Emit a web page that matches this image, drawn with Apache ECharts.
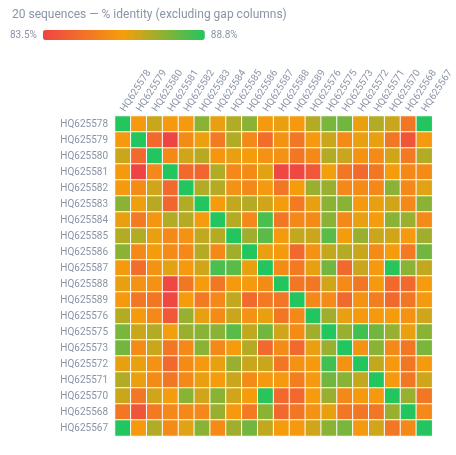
<!DOCTYPE html>
<html>
<head>
<meta charset="utf-8">
<script src="https://cdn.jsdelivr.net/npm/echarts@6/dist/echarts.min.js"></script>
<style>html,body{margin:0;padding:0;background:#fff}#c{width:456px;height:455px}</style>
</head>
<body>
<div id="c"></div>
<script>
const sequences = ['HQ625578','HQ625579','HQ625580','HQ625581','HQ625582','HQ625583','HQ625584','HQ625585','HQ625586','HQ625587','HQ625588','HQ625589','HQ625576','HQ625575','HQ625573','HQ625572','HQ625571','HQ625570','HQ625568','HQ625567'];
const diagonalValue = 100;
const scaleMin = 83.5;
const scaleMax = 88.8;
// upper triangle: row i lists identity with columns i+1 .. 19
const upperTriangle = [
  [86.0, 86.7, 86.0, 86.0, 87.5, 86.3, 87.0, 87.5, 86.0, 86.3, 86.0, 86.95, 87.7, 87.8, 86.3, 87.0, 86.7, 85.0, 88.8],
  [84.6, 83.5, 85.6, 86.25, 85.1, 87.0, 85.5, 84.7, 85.8, 85.0, 86.0, 86.7, 85.6, 86.3, 86.3, 85.0, 84.0, 86.0],
  [85.5, 86.6, 86.9, 85.9, 86.3, 86.1, 85.8, 85.8, 85.0, 85.5, 87.0, 86.7, 85.8, 85.6, 86.6, 85.1, 87.0],
  [84.6, 84.5, 87.0, 85.5, 85.6, 86.4, 83.6, 83.6, 84.1, 86.2, 85.0, 84.6, 85.0, 86.1, 85.5, 85.6],
  [87.0, 86.95, 85.8, 85.5, 86.0, 85.0, 86.1, 87.3, 87.3, 85.5, 85.6, 85.5, 87.5, 85.5, 86.4],
  [86.1, 86.8, 86.95, 86.6, 86.1, 85.1, 86.3, 87.5, 87.5, 86.0, 86.3, 86.6, 85.5, 87.5],
  [86.95, 85.5, 88.3, 85.0, 85.5, 85.6, 87.5, 85.5, 86.3, 86.1, 87.5, 87.3, 85.6],
  [87.2, 88.1, 86.0, 86.8, 86.7, 88.1, 86.1, 87.3, 86.7, 86.6, 86.0, 87.2],
  [86.3, 86.0, 84.6, 85.8, 86.8, 86.95, 86.7, 85.6, 86.1, 85.1, 87.8],
  [85.6, 85.1, 86.3, 87.8, 84.6, 86.7, 86.0, 88.7, 87.5, 86.8],
  [85.0, 85.0, 86.6, 85.6, 85.0, 86.0, 84.6, 84.6, 86.1],
  [85.5, 85.6, 84.6, 85.8, 85.2, 84.6, 85.0, 86.0],
  [87.2, 86.3, 86.0, 86.0, 86.1, 85.8, 86.6],
  [87.3, 88.4, 87.8, 87.3, 86.3, 87.5],
  [85.8, 87.5, 85.5, 85.0, 87.7],
  [86.8, 86.0, 85.0, 86.0],
  [86.0, 85.0, 86.6],
  [87.3, 85.0],
  [85.5]
];

const n = sequences.length;
function identity(i, j) {
  if (i === j) return diagonalValue;
  const a = Math.min(i, j), b = Math.max(i, j);
  return upperTriangle[a][b - a - 1];
}
const cells = [];
for (let i = 0; i < n; i++) {
  for (let j = 0; j < n; j++) {
    cells.push([j, i, identity(i, j)]);
  }
}

const labelColor = '#8a94a6';
const font = 'Roboto, sans-serif';
const chart = echarts.init(document.getElementById('c'), null, {renderer: 'canvas'});
chart.setOption({
  backgroundColor: '#fff',
  animation: false,
  textStyle: {fontFamily: font},
  title: {
    text: '20 sequences — % identity (excluding gap columns)',
    left: 7, top: 4,
    textStyle: {fontSize: 12, fontWeight: 'normal', color: labelColor, fontFamily: font}
  },
  grid: {left: 115, right: 21, top: 116, bottom: 19},
  xAxis: {
    type: 'category',
    data: sequences,
    position: 'top',
    axisLine: {show: false},
    axisTick: {show: false},
    splitLine: {show: false},
    axisLabel: {rotate: -57, fontSize: 10, color: labelColor, fontFamily: font, margin: 5, interval: 0}
  },
  yAxis: {
    type: 'category',
    data: sequences,
    inverse: true,
    axisLine: {show: false},
    axisTick: {show: false},
    splitLine: {show: false},
    axisLabel: {fontSize: 10, color: labelColor, fontFamily: font, margin: 7, interval: 0}
  },
  visualMap: {
    type: 'continuous',
    min: scaleMin,
    max: scaleMax,
    orient: 'horizontal',
    left: -5, top: 15,
    itemWidth: 10,
    itemHeight: 162,
    calculable: false,
    text: ['88.8%', '83.5%'],
    textGap: 6,
    textStyle: {fontSize: 10, color: labelColor, fontFamily: font},
    inRange: {color: ['#ef4444', '#f59e0b', '#22c55e']}
  },
  series: [{
    type: 'heatmap',
    data: cells,
    itemStyle: {borderColor: '#fff', borderWidth: 1},
    emphasis: {disabled: true}
  }]
});
</script>
</body>
</html>
